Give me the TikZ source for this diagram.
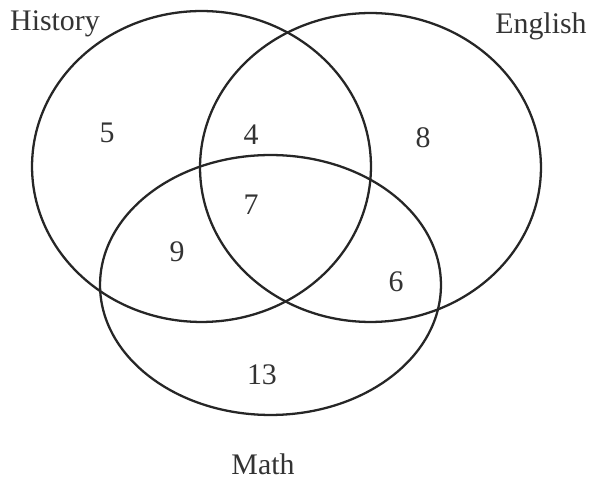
\documentclass[tikz,border=0pt]{standalone}
\usepackage{fontspec}
\setmainfont{Liberation Serif}
\usetikzlibrary{shapes.geometric}

\begin{document}
\begin{tikzpicture}[
        x=0.02cm, y=-0.02cm,
        set/.style={ellipse, draw=black!85, line width=1.3pt, inner sep=0pt},
        count/.style={font=\fontsize{17}{20}\selectfont, text=black!80},
        setname/.style={font=\fontsize{17}{20}\selectfont, text=black!80}
    ]
        \useasboundingbox (0,0) rectangle (593,479);

        % Sets
        \node[set, minimum width=6.78cm, minimum height=6.22cm] (history) at (201.5,166.5) {};
        \node[set, minimum width=6.82cm, minimum height=6.18cm] (english) at (370.5,167.5) {};
        \node[set, minimum width=6.82cm, minimum height=5.2cm] (math) at (270.5,285) {};

        % Set names
        \node[setname] (historyname) at (55,24) {History};
        \node[setname] (englishname) at (541,26) {English};
        \node[setname] (mathname) at (263,464) {Math};

        % Region counts
        \node[count] (honly) at (107,133) {5};
        \node[count] (he) at (251,135) {4};
        \node[count] (eonly) at (423,138) {8};
        \node[count] (hem) at (251,205) {7};
        \node[count] (hm) at (177,252) {9};
        \node[count] (em) at (396,282) {6};
        \node[count] (monly) at (262,375) {13};
    \end{tikzpicture}
\end{document}
